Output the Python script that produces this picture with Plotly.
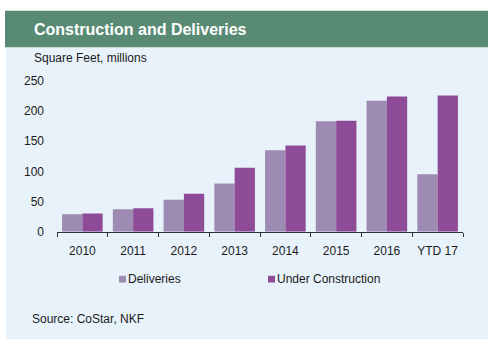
import plotly.graph_objects as go

categories = ["2010", "2011", "2012", "2013", "2014", "2015", "2016", "YTD 17"]
deliveries = [29, 37, 53, 80, 135, 183, 217, 95]
under_construction = [30, 39, 63, 106, 143, 184, 224, 226]
y_ticks = [0, 50, 100, 150, 200, 250]
series_names = ["Deliveries", "Under Construction"]
series_colors = ["#9E8BB3", "#8E4C98"]

W, H = 500, 350
FONT = "Liberation Sans, Arial, sans-serif"

fig = go.Figure()
for name, vals, col in zip(series_names, [deliveries, under_construction], series_colors):
    fig.add_trace(go.Bar(x=categories, y=vals, name=name, showlegend=False,
                         marker=dict(color=col, line=dict(width=0))))

# custom legend (small square right beside text, as in the reference)
legend_x = [119, 268]
legend_y = 283
shapes = [
    dict(type="rect", xref="paper", yref="paper", x0=6 / W, x1=488 / W, y0=4 / H, y1=(H - 42) / H,
         fillcolor="#E8F2FA", line=dict(width=0), layer="below"),
    dict(type="rect", xref="paper", yref="paper", x0=5 / W, x1=488 / W, y0=(H - 42) / H, y1=(H - 4) / H,
         fillcolor="#588A74", line=dict(width=0), layer="below"),
]
annotations = [
    dict(text="<b>Construction and Deliveries</b>", xref="paper", yref="paper",
         x=32 / W, y=(H - 23) / H, xanchor="left", yanchor="middle", showarrow=False,
         font=dict(size=16, color="white", family=FONT)),
    dict(text="Square Feet, millions", xref="paper", yref="paper",
         x=32 / W, y=(H - 53) / H, xanchor="left", yanchor="middle", showarrow=False,
         font=dict(size=12, color="#1a1a1a", family=FONT)),
    dict(text="Source: CoStar, NKF", xref="paper", yref="paper",
         x=30 / W, y=(H - 325) / H, xanchor="left", yanchor="middle", showarrow=False,
         font=dict(size=12, color="#1a1a1a", family=FONT)),
]
for lx, name, col in zip(legend_x, series_names, series_colors):
    shapes.append(dict(type="rect", xref="paper", yref="paper",
                       x0=lx / W, x1=(lx + 7) / W, y0=(H - legend_y - 4) / H, y1=(H - legend_y + 3) / H,
                       fillcolor=col, line=dict(width=0)))
    annotations.append(dict(text=name, xref="paper", yref="paper",
                            x=(lx + 7) / W, y=(H - legend_y) / H, xanchor="left", yanchor="middle",
                            showarrow=False, font=dict(size=12, color="#1a1a1a", family=FONT)))

fig.update_layout(
    width=W, height=H,
    margin=dict(l=0, r=0, t=0, b=0),
    paper_bgcolor="white",
    plot_bgcolor="rgba(0,0,0,0)",
    barmode="group",
    bargap=0.2,
    bargroupgap=0,
    showlegend=False,
    font=dict(family=FONT, size=12, color="#1a1a1a"),
    xaxis=dict(domain=[57 / W, 463 / W], showline=True, linecolor="#333333", linewidth=1,
               ticks="outside", tickson="boundaries", ticklen=4, tickcolor="#333333",
               tickfont=dict(size=12, color="#1a1a1a"), ticklabelstandoff=8,
               showgrid=False, fixedrange=True),
    yaxis=dict(domain=[(H - 234) / H, (H - 77) / H], range=[0, 250], tickvals=y_ticks,
               showgrid=False, zeroline=False, showline=False, ticks="",
               tickfont=dict(size=12, color="#1a1a1a"), ticklabelstandoff=12, fixedrange=True),
    shapes=shapes,
    annotations=annotations,
)

fig.write_html("out.html")
